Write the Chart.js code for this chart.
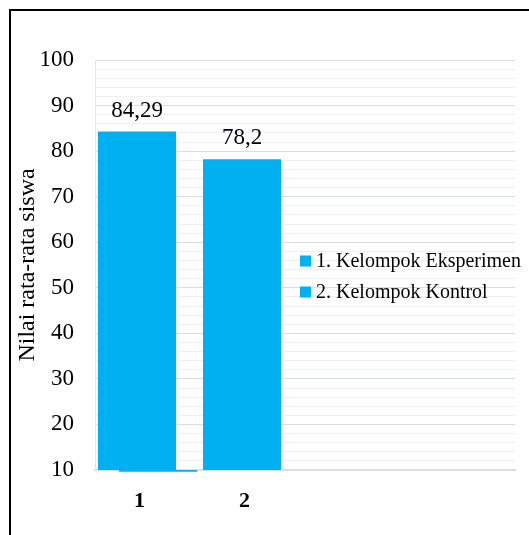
<!DOCTYPE html>
<html>
<head>
<meta charset="utf-8">
<script src="https://cdn.jsdelivr.net/npm/chart.js@4.4.0/dist/chart.umd.min.js"></script>
<style>
  body { margin: 0; background: #fff; }
  #wrap { position: relative; width: 529px; height: 535px; }
  #frame {
    position: absolute; left: 9px; top: 9px; right: 0; bottom: 0;
    border-top: 2px solid #000; border-left: 2px solid #000;
    pointer-events: none;
  }
</style>
</head>
<body>
<div id="wrap">
  <canvas id="myChart" width="529" height="535"></canvas>
  <div id="frame"></div>
</div>
<script>
// --- chart data ---
const categories = ["1", "2", "", ""];
const seriesNames = ["1. Kelompok Eksperimen", "2. Kelompok Kontrol"];
const eksperimenValues = [84.29, 78.2, null, null];
const kontrolValues = [9.6, null, null, null];
const yMin = 10;
const yMax = 100;
const yTickLabels = ["10", "20", "30", "40", "50", "60", "70", "80", "90", "100"];
const axisTitle = "Nilai rata-rata siswa";

const barColor = "#00B0F0";
const serif = "'Liberation Serif', 'Times New Roman', serif";

// the control bar hangs from the axis minimum, not from zero
const kontrolBars = kontrolValues.map(v => v == null ? null : [yMin, v]);

// value labels above the first series (comma decimals like the original)
const valueLabels = {
    id: "valueLabels",
    afterDatasetsDraw(chart) {
        const ctx = chart.ctx;
        const meta = chart.getDatasetMeta(0);
        ctx.save();
        ctx.font = "23px " + serif;
        ctx.fillStyle = "#000";
        ctx.textAlign = "center";
        ctx.textBaseline = "alphabetic";
        meta.data.forEach((bar, i) => {
            const v = eksperimenValues[i];
            if (v == null) return;
            ctx.fillText(String(v).replace(".", ","), bar.x, bar.y - 15);
        });
        ctx.restore();
    }
};

// legend drawn on top of the plot area, like the Excel one
const insideLegend = {
    id: "insideLegend",
    afterDraw(chart) {
        const ctx = chart.ctx;
        const x = 300, y0 = 261, gap = 31, box = 11;
        ctx.save();
        ctx.font = "20px " + serif;
        ctx.textBaseline = "middle";
        chart.data.datasets.forEach((ds, i) => {
            const y = y0 + i * gap;
            ctx.fillStyle = ds.backgroundColor;
            ctx.fillRect(x, y - box / 2, box, box);
            ctx.fillStyle = "#000";
            ctx.fillText(ds.label, x + 16, y + 1);
        });
        ctx.restore();
    }
};

const ctx = document.getElementById("myChart").getContext("2d");

new Chart(ctx, {
    type: "bar",
    data: {
        labels: categories,
        datasets: [
            {
                label: seriesNames[0],
                data: eksperimenValues,
                backgroundColor: barColor,
                categoryPercentage: 0.4,
                barPercentage: 3.714
            },
            {
                label: seriesNames[1],
                data: kontrolBars,
                backgroundColor: barColor,
                categoryPercentage: 0.4,
                barPercentage: 3.714,
                clip: false
            }
        ]
    },
    options: {
        responsive: false,
        animation: false,
        layout: { padding: { left: 10, top: 60, right: 14, bottom: 5 } },
        plugins: {
            legend: { display: false },
            tooltip: { enabled: false }
        },
        scales: {
            x: {
                grid: { display: false },
                border: { display: true, color: "#d9dde4", width: 2 },
                ticks: {
                    color: "#000",
                    font: { family: serif, size: 22, weight: "bold" },
                    padding: 10,
                    labelOffset: -8,
                    maxRotation: 0,
                    autoSkip: false
                },
                afterFit(scale) { scale.height = 60; }
            },
            y: {
                min: yMin,
                max: yMax,
                ticks: {
                    stepSize: 2,
                    autoSkip: false,
                    padding: 21,
                    color: "#000",
                    font: { family: serif, size: 23 },
                    callback: v => yTickLabels.includes(String(v)) ? String(v) : ""
                },
                grid: {
                    drawTicks: false,
                    color: c => (c.tick && c.tick.value % 10 === 0) ? "#d9dde4" : "#eef0f3"
                },
                border: { display: true, color: "#e2e5ea" },
                title: {
                    display: true,
                    text: axisTitle,
                    color: "#000",
                    font: { family: serif, size: 24 },
                    padding: { top: 3, bottom: 0 }
                },
                afterFit(scale) { scale.width = 85; }
            }
        }
    },
    plugins: [valueLabels, insideLegend]
});
</script>
</body>
</html>
